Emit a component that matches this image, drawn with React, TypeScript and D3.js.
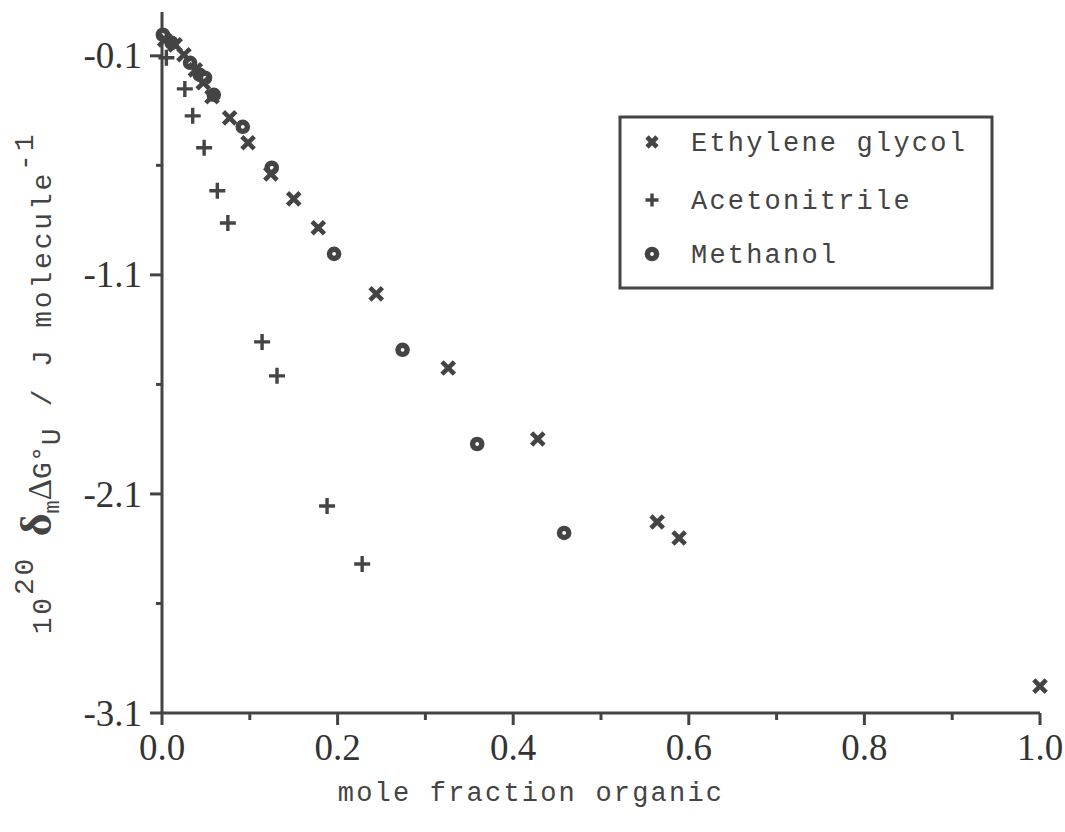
import React from "react";
import * as d3 from "d3";

const glycolX = [0.003, 0.015, 0.025, 0.038, 0.047, 0.057, 0.077, 0.098, 0.124, 0.150, 0.178, 0.244, 0.326, 0.428, 0.564, 0.589, 1.0];
const glycolY = [-0.027, -0.05, -0.095, -0.164, -0.223, -0.287, -0.383, -0.497, -0.639, -0.753, -0.885, -1.187, -1.525, -1.849, -2.228, -2.301, -2.977];

const acetoX = [0.005, 0.026, 0.035, 0.048, 0.063, 0.075, 0.114, 0.131, 0.188, 0.228];
const acetoY = [-0.109, -0.251, -0.374, -0.52, -0.716, -0.863, -1.406, -1.561, -2.155, -2.42];

const methX = [0.001, 0.011, 0.032, 0.043, 0.049, 0.059, 0.092, 0.125, 0.196, 0.274, 0.359, 0.458];
const methY = [-0.004, -0.041, -0.132, -0.187, -0.2, -0.278, -0.424, -0.611, -1.004, -1.442, -1.872, -2.278];

const xMajor = [0, 0.2, 0.4, 0.6, 0.8, 1.0];
const xMinor = [0.1, 0.3, 0.5, 0.7, 0.9];
const yMajor = [-0.1, -1.1, -2.1, -3.1];
const yMinor = [-0.6, -1.6, -2.6];

const legendLabels = ["Ethylene glycol", "Acetonitrile", "Methanol"];

const INK = "#444";
const MONO = "'Liberation Mono', 'DejaVu Sans Mono', monospace";
const SERIF = "'Liberation Serif', 'DejaVu Serif', serif";

const x = d3.scaleLinear().domain([0, 1]).range([162, 1040]);
const y = d3.scaleLinear().domain([-3.1, 0.1]).range([713, 12]);

function Cross({ cx, cy, s = 6.2 }: { cx: number; cy: number; s?: number }) {
  return (
    <path
      d={`M${cx - s},${cy - s}L${cx + s},${cy + s}M${cx - s},${cy + s}L${cx + s},${cy - s}`}
      stroke={INK}
      strokeWidth={4.6}
      fill="none"
    />
  );
}

function Plus({ cx, cy, s = 8 }: { cx: number; cy: number; s?: number }) {
  return (
    <path
      d={`M${cx - s},${cy}L${cx + s},${cy}M${cx},${cy - s}L${cx},${cy + s}`}
      stroke={INK}
      strokeWidth={3.4}
      fill="none"
    />
  );
}

function Ring({ cx, cy }: { cx: number; cy: number }) {
  return <circle cx={cx} cy={cy} r={4.6} stroke={INK} strokeWidth={5.4} fill="white" />;
}

export default function App() {
  const tickFont = { fontFamily: SERIF, fontSize: 37, fill: "#333" };
  const monoFont = { fontFamily: MONO, fontSize: 27, fill: "#444", letterSpacing: 2.2 };
  const legX = 620, legY = 117, legW = 372, legH = 171;
  const rowYs = [142, 200, 254];
  return (
    <svg
      width={1065}
      height={832}
      style={{ position: "absolute", left: 0, top: 0, background: "white" }}
    >
      {/* axes */}
      <line x1={x(0)} x2={x(0)} y1={y(0.1)} y2={y(-3.1)} stroke={INK} strokeWidth={3} />
      <line x1={x(0) - 1.5} x2={x(1)} y1={y(-3.1)} y2={y(-3.1)} stroke={INK} strokeWidth={3} />
      {yMajor.map((v) => (
        <line key={"ym" + v} x1={x(0) - 12} x2={x(0)} y1={y(v)} y2={y(v)} stroke={INK} strokeWidth={3} />
      ))}
      {yMinor.map((v) => (
        <line key={"yn" + v} x1={x(0) - 6} x2={x(0)} y1={y(v)} y2={y(v)} stroke={INK} strokeWidth={3} />
      ))}
      {xMajor.map((v) => (
        <line key={"xm" + v} x1={x(v)} x2={x(v)} y1={y(-3.1)} y2={y(-3.1) + 12} stroke={INK} strokeWidth={3} />
      ))}
      {xMinor.map((v) => (
        <line key={"xn" + v} x1={x(v)} x2={x(v)} y1={y(-3.1)} y2={y(-3.1) + 7} stroke={INK} strokeWidth={3} />
      ))}
      {yMajor.map((v) => (
        <text key={"yl" + v} x={x(0) - 20} y={y(v)} dy="0.34em" textAnchor="end" style={tickFont}>
          {v.toFixed(1)}
        </text>
      ))}
      {xMajor.map((v) => (
        <text key={"xl" + v} x={x(v)} y={760} textAnchor="middle" style={tickFont}>
          {v.toFixed(1)}
        </text>
      ))}

      {/* axis titles */}
      <text x={531} y={801} textAnchor="middle" style={monoFont}>
        mole fraction organic
      </text>
      <g transform="translate(51,383) rotate(-90)">
        <text textAnchor="middle" style={{ fontFamily: MONO, fontSize: 28, fill: "#444", letterSpacing: 2.8 }}>
          <tspan>10</tspan>
          <tspan dy={-18}>20</tspan>
          <tspan dy={18}> </tspan>
          <tspan style={{ fontFamily: SERIF, fontSize: 44, fontWeight: "bold", letterSpacing: 0 }}>δ</tspan>
          <tspan dy={8} style={{ fontSize: 22, letterSpacing: 0 }}>m</tspan>
          <tspan dy={-8} style={{ fontFamily: SERIF, fontSize: 33, letterSpacing: 0 }}>Δ</tspan>
          <tspan style={{ letterSpacing: 0 }}>G°</tspan>
          <tspan dy={9}>U</tspan>
          <tspan dy={-9}> / J molecule</tspan>
          <tspan dy={-18}>-1</tspan>
        </text>
      </g>

      {/* data */}
      {methX.map((v, i) => (
        <Ring key={"m" + i} cx={x(v)} cy={y(methY[i])} />
      ))}
      {glycolX.map((v, i) => (
        <Cross key={"g" + i} cx={x(v)} cy={y(glycolY[i])} />
      ))}
      {acetoX.map((v, i) => (
        <Plus key={"a" + i} cx={x(v)} cy={y(acetoY[i])} />
      ))}

      {/* legend */}
      <rect x={legX} y={legY} width={legW} height={legH} fill="white" stroke={INK} strokeWidth={3} />
      <Cross cx={652} cy={rowYs[0]} s={5} />
      <Plus cx={652} cy={rowYs[1]} s={6.5} />
      <Ring cx={652} cy={rowYs[2]} />
      {legendLabels.map((l, i) => (
        <text key={l} x={691} y={rowYs[i] + 9} style={monoFont}>
          {l}
        </text>
      ))}
    </svg>
  );
}
